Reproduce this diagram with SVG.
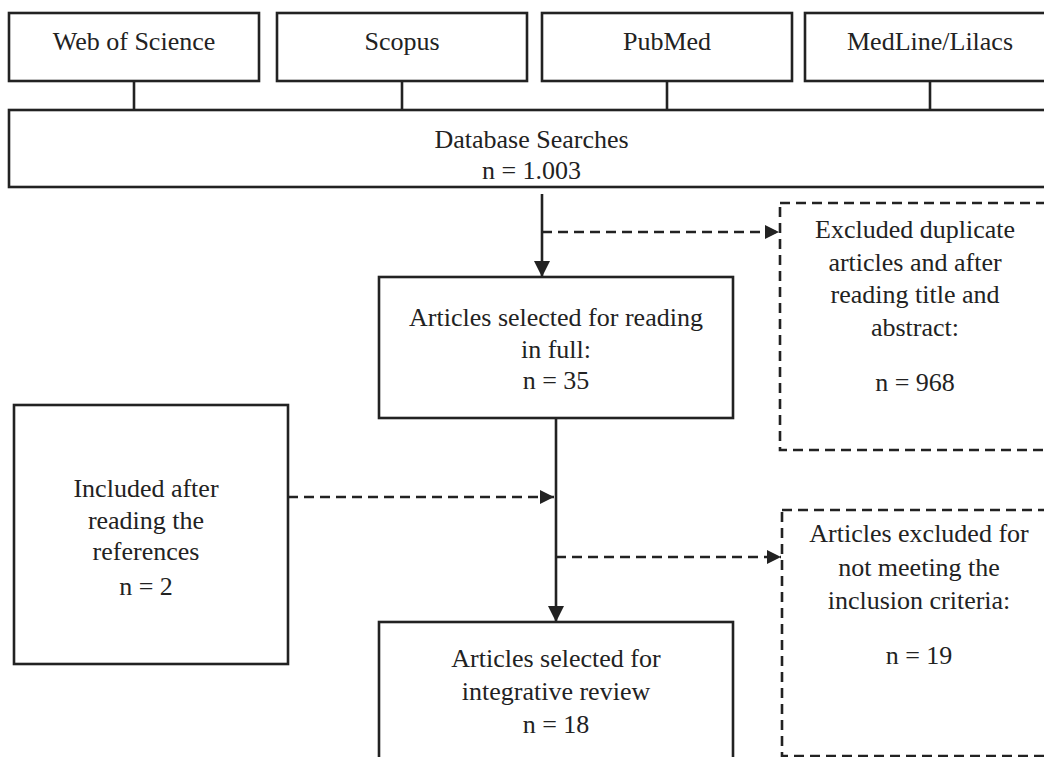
<svg xmlns="http://www.w3.org/2000/svg" width="1044" height="757" viewBox="0 0 1044 757">
<style>
.box{fill:#fff;stroke:#222;stroke-width:2.6}
.dbox{fill:#fff;stroke:#222;stroke-width:2.6;stroke-dasharray:10 6}
.line{fill:none;stroke:#222;stroke-width:2.6}
.dline{fill:none;stroke:#222;stroke-width:2.6;stroke-dasharray:10 6}
text{font-family:"Liberation Serif","Times New Roman",serif;font-size:26px;fill:#222;text-anchor:middle}
</style>
<defs>
<marker id="ah" markerUnits="userSpaceOnUse" markerWidth="17" markerHeight="17" refX="16" refY="8" orient="auto">
<path d="M0,0 L16,8 L0,16 Z" fill="#222"/>
</marker>
<marker id="ahs" markerUnits="userSpaceOnUse" markerWidth="15" markerHeight="15" refX="14" refY="7" orient="auto">
<path d="M0,0 L14,7 L0,14 Z" fill="#222"/>
</marker>
</defs>
<rect width="1044" height="757" fill="#fff"/>
<g id="connectors">
<line class="line" x1="134" y1="81" x2="134" y2="110"/>
<line class="line" x1="402" y1="81" x2="402" y2="110"/>
<line class="line" x1="667" y1="81" x2="667" y2="110"/>
<line class="line" x1="930" y1="81" x2="930" y2="110"/>
<line class="line" x1="542" y1="194" x2="542" y2="277" marker-end="url(#ah)"/>
<line class="dline" x1="542" y1="232" x2="779" y2="232" marker-end="url(#ahs)"/>
<line class="line" x1="556" y1="418" x2="556" y2="622" marker-end="url(#ah)"/>
<line class="dline" x1="288" y1="497" x2="554" y2="497" marker-end="url(#ahs)"/>
<line class="dline" x1="556" y1="557" x2="781" y2="557" marker-end="url(#ahs)"/>
</g>
<g id="wos"><rect class="box" x="9" y="13" width="250" height="68"/><text x="134" y="50">Web of Science</text></g>
<g id="scopus"><rect class="box" x="277" y="13" width="250" height="68"/><text x="402" y="50">Scopus</text></g>
<g id="pubmed"><rect class="box" x="542" y="13" width="250" height="68"/><text x="667" y="50">PubMed</text></g>
<g id="medline"><rect class="box" x="805" y="13" width="250" height="68"/><text x="930" y="50">MedLine/Lilacs</text></g>
<g id="database"><rect class="box" x="9" y="110" width="1046" height="77"/><text x="531.5" y="148">Database Searches</text><text x="531.5" y="179">n = 1.003</text></g>
<g id="fullread"><rect class="box" x="379" y="277" width="354" height="141"/><text x="556" y="326">Articles selected for reading</text><text x="556" y="358">in full:</text><text x="556" y="389">n = 35</text></g>
<g id="excluded1"><rect class="dbox" x="780" y="203" width="280" height="247"/><text x="915" y="238">Excluded duplicate</text><text x="915" y="271">articles and after</text><text x="915" y="303">reading title and</text><text x="915" y="336">abstract:</text><text x="915" y="391">n = 968</text></g>
<g id="included"><rect class="box" x="14" y="405" width="274" height="259"/><text x="146" y="497">Included after</text><text x="146" y="529">reading the</text><text x="146" y="560">references</text><text x="146" y="595">n = 2</text></g>
<g id="excluded2"><rect class="dbox" x="782" y="510" width="280" height="246"/><text x="919" y="542">Articles excluded for</text><text x="919" y="576">not meeting the</text><text x="919" y="609">inclusion criteria:</text><text x="919" y="664">n = 19</text></g>
<g id="review"><rect class="box" x="379" y="622" width="354" height="200"/><text x="556" y="667">Articles selected for</text><text x="556" y="700">integrative review</text><text x="556" y="733">n = 18</text></g>
</svg>
